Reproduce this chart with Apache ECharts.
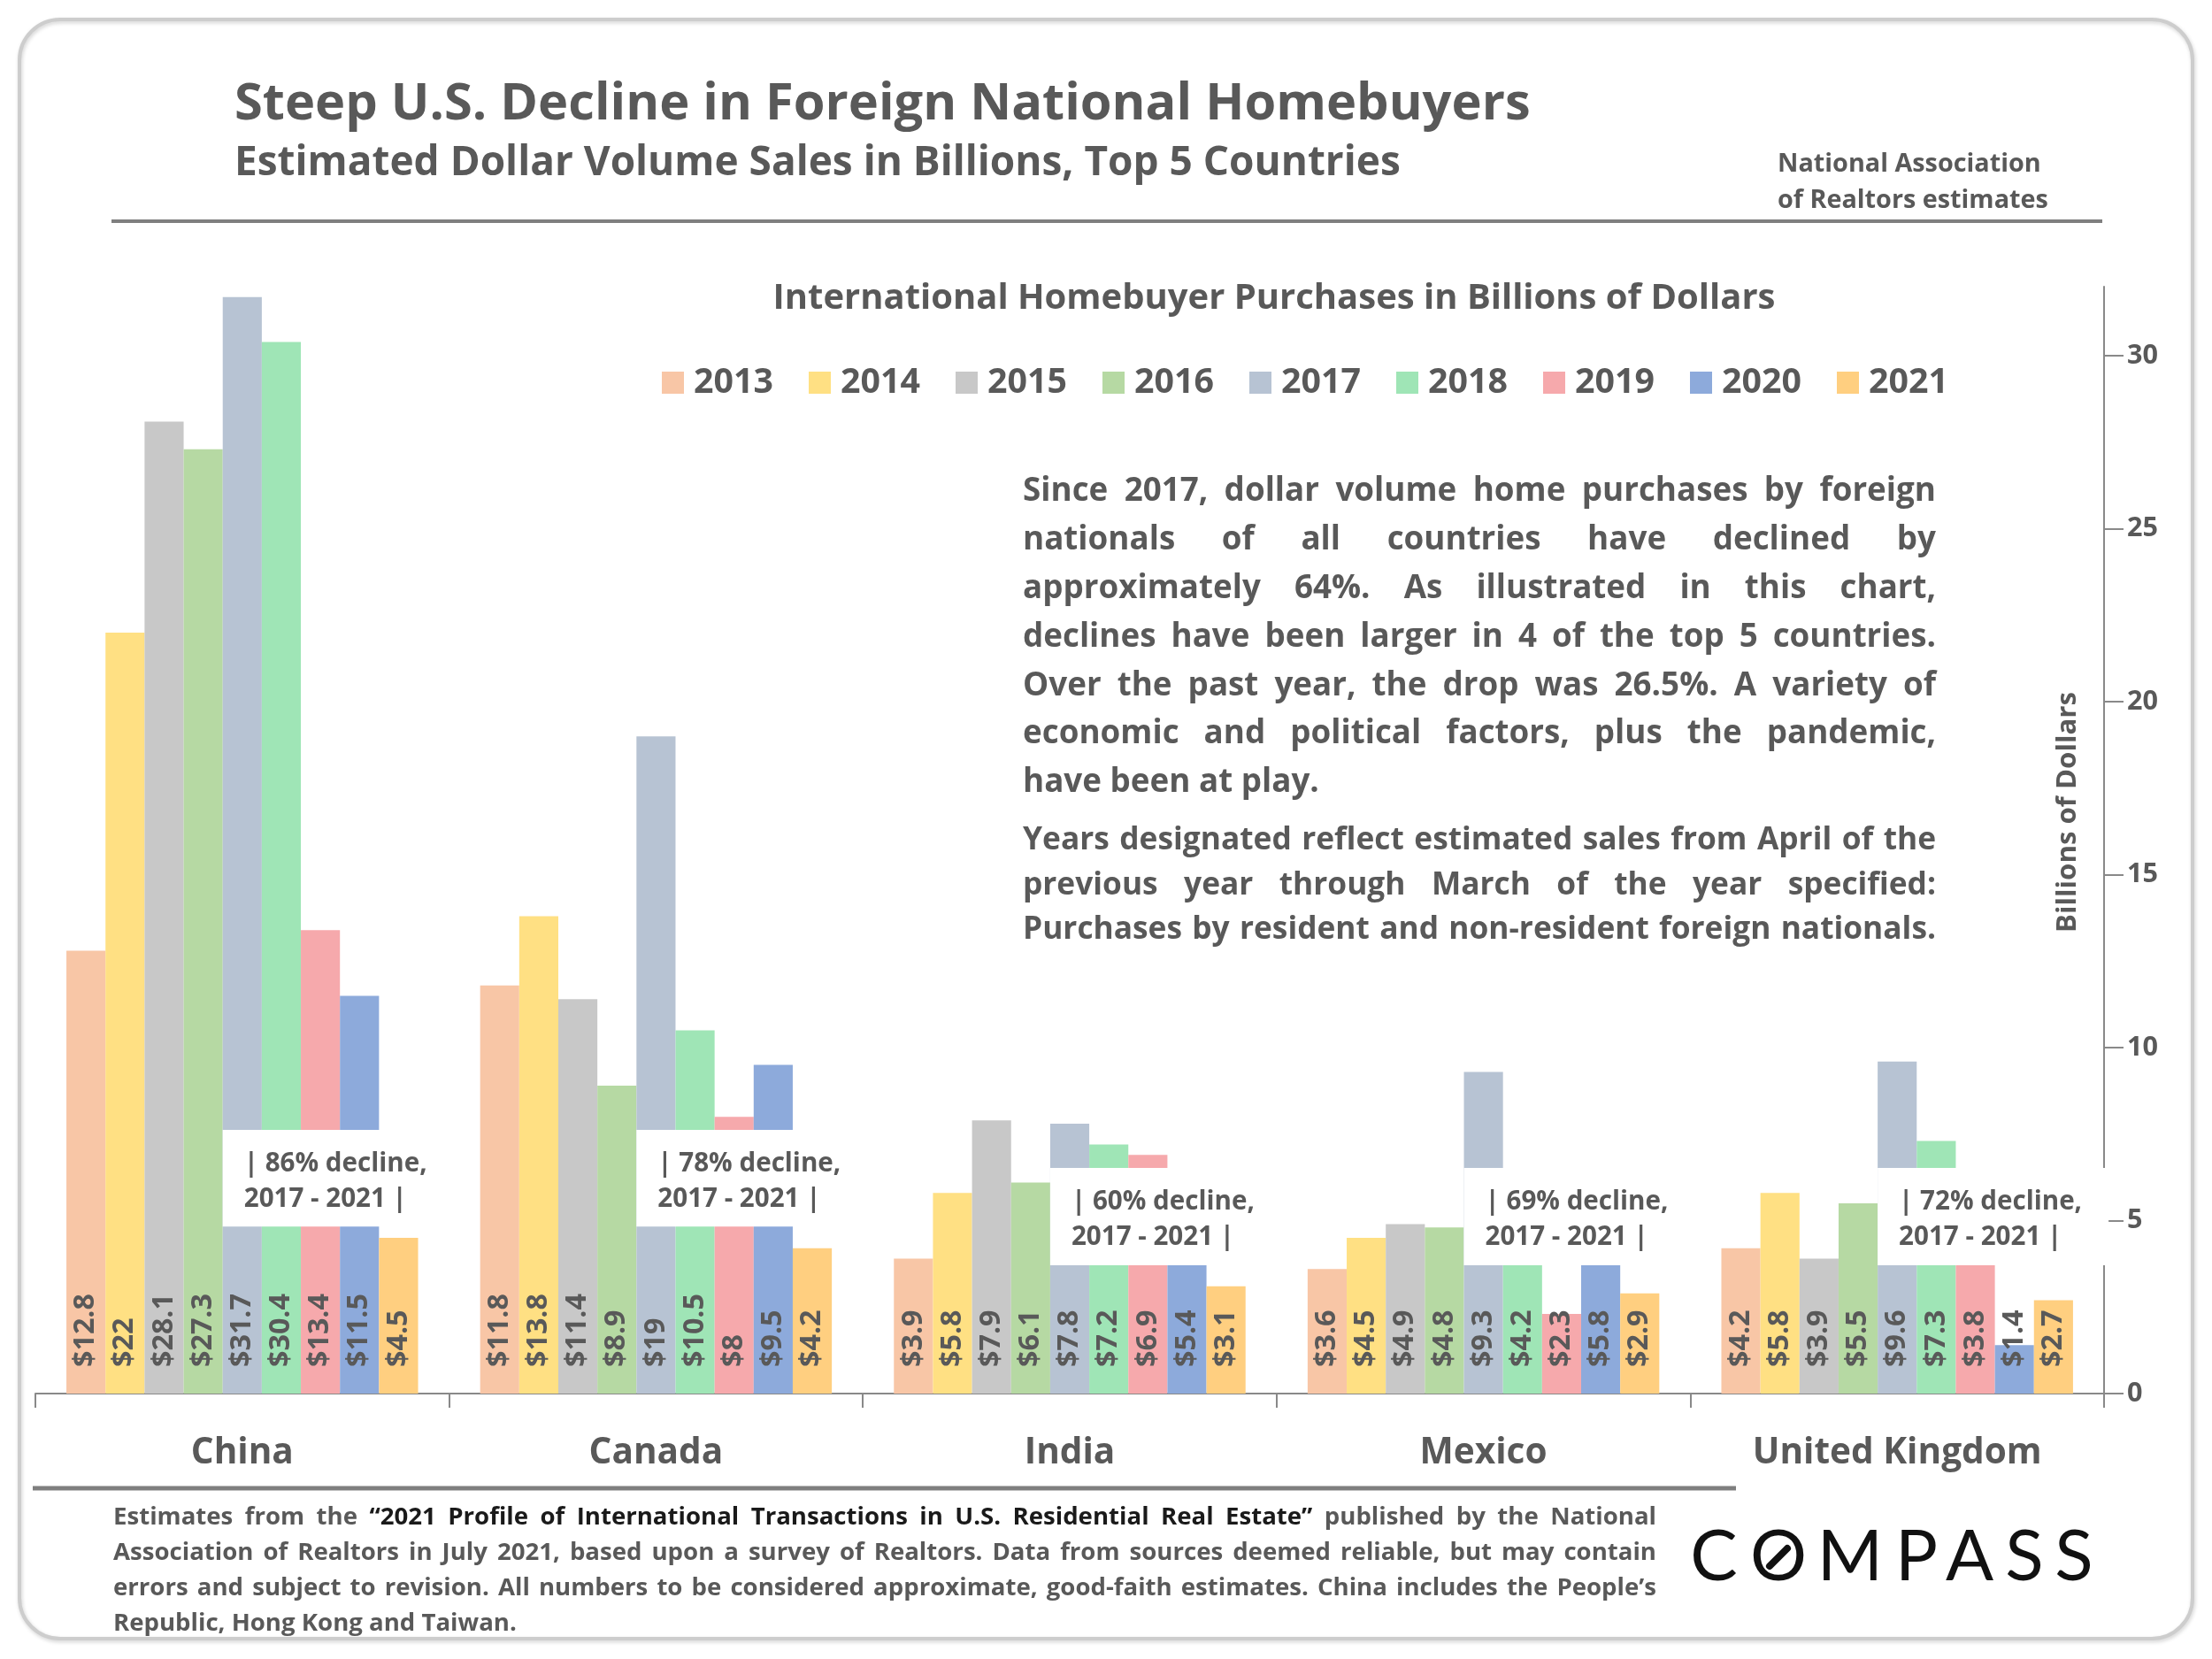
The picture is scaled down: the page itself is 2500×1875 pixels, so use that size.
<!DOCTYPE html>
<html><head><meta charset="utf-8">
<script src="https://cdn.jsdelivr.net/npm/echarts@6/dist/echarts.min.js"></script>
<style>html,body{margin:0;padding:0;background:#fff}#c{width:2500px;height:1875px}</style>
</head><body><div id="c"></div>
<script>
// ---------- data ----------
const categories = ['China', 'Canada', 'India', 'Mexico', 'United Kingdom'];
const years = ['2013', '2014', '2015', '2016', '2017', '2018', '2019', '2020', '2021'];
const v2013 = [12.8, 11.8, 3.9, 3.6, 4.2];
const v2014 = [22, 13.8, 5.8, 4.5, 5.8];
const v2015 = [28.1, 11.4, 7.9, 4.9, 3.9];
const v2016 = [27.3, 8.9, 6.1, 4.8, 5.5];
const v2017 = [31.7, 19, 7.8, 9.3, 9.6];
const v2018 = [30.4, 10.5, 7.2, 4.2, 7.3];
const v2019 = [13.4, 8, 6.9, 2.3, 3.8];
const v2020 = [11.5, 9.5, 5.4, 5.8, 1.4];
const v2021 = [4.5, 4.2, 3.1, 2.9, 2.7];
const declines = ['86%', '78%', '60%', '69%', '72%'];
const yTicks = [0, 5, 10, 15, 20, 25, 30];
const yearValues = [v2013, v2014, v2015, v2016, v2017, v2018, v2019, v2020, v2021];

// ---------- styles / layout ----------
const colors = ['#F8C6A6', '#FFE083', '#C8C8C8', '#B6D9A3', '#B7C3D3', '#9FE5B6', '#F6A9AC', '#8DAADB', '#FFCF80'];
const FONT = '"Open Sans", sans-serif';
const GRAY = '#595959';
const AXIS = '#898989';
const boxTopVal = [7.62, 7.62, 6.52, 6.52, 6.52];
const boxBottomVal = [4.83, 4.83, 3.71, 3.71, 3.71];

const ctx = document.createElement('canvas').getContext('2d');
function tw(t, size, weight) { ctx.font = (weight || 'bold') + ' ' + size + 'px "Open Sans"'; return ctx.measureText(t).width; }
function fit(t, w, weight) { return 100 * w / tw(t, 100, weight); }

function txt(text, x, y, size, o) {
  o = o || {};
  return { type: 'text', x: x, y: y, z: o.z || 20, rotation: o.rotation || 0,
    style: { text: text, fontSize: size, fontWeight: o.weight || 'bold', fontFamily: FONT,
      fill: o.color || GRAY, align: o.align || 'left', verticalAlign: 'middle' } };
}
function justifyLine(words, x0, x1, y, size, doJustify, out) {
  const ws = words.map(w => tw(w.t, size));
  const total = ws.reduce((a, b) => a + b, 0);
  const space = tw(' ', size);
  let gap = (doJustify && words.length > 1) ? (x1 - x0 - total) / (words.length - 1) : space;
  if (gap < space * 0.6) gap = space * 0.6;
  let x = x0;
  words.forEach((w, i) => { out.push(txt(w.t, x, y, size, { color: w.color })); x += ws[i] + gap; });
}
function plainWords(s, color) { return s.split(' ').filter(Boolean).map(t => ({ t: t, color: color || GRAY })); }

const chart = echarts.init(document.getElementById('c'), null, { renderer: 'canvas' });

const legendSize = fit('2013', 90);
const legendTextW = tw('2013', legendSize);
const labelSize = fit('$12.8', 83);
const xLabelSize = fit('United Kingdom', 327);
const yLabelSize = fit('30', 35);

const series = years.map((y, i) => ({
  name: y, type: 'bar', data: yearValues[i], barGap: '0%', barCategoryGap: '15%',
  itemStyle: { color: colors[i] },
  label: { show: true, position: 'insideBottom', rotate: 90, align: 'left', verticalAlign: 'middle',
    distance: 30, formatter: p => '$' + p.value, color: GRAY, fontSize: labelSize,
    fontWeight: 'bold', fontFamily: FONT }
}));

chart.setOption({
  animation: false,
  backgroundColor: '#ffffff',
  grid: { left: 40, right: 122, top: 324, bottom: 300 },
  legend: {
    data: years, left: 743, top: 408, itemWidth: 25, itemHeight: 25, icon: 'rect',
    itemGap: 166 - 25 - 5 - 6 - legendTextW, selectedMode: false,
    textStyle: { color: GRAY, fontSize: legendSize, fontWeight: 'bold', fontFamily: FONT, padding: [0, 0, 0, 6], lineHeight: 25 }
  },
  xAxis: {
    type: 'category', data: categories,
    axisLine: { lineStyle: { color: AXIS, width: 2 } },
    axisTick: { show: true, alignWithLabel: false, length: 16, lineStyle: { color: AXIS, width: 2 } },
    axisLabel: { color: GRAY, fontSize: xLabelSize, fontWeight: 'bold', fontFamily: FONT, margin: 47, interval: 0 }
  },
  yAxis: {
    type: 'value', position: 'right', min: 0, max: 32, interval: 5,
    splitLine: { show: false },
    axisLine: { show: true, lineStyle: { color: AXIS, width: 2 } },
    axisTick: { show: true, length: 22, customValues: yTicks, lineStyle: { color: AXIS, width: 2 } },
    axisLabel: { customValues: yTicks, margin: 26, color: GRAY, fontSize: yLabelSize, fontWeight: 'bold', fontFamily: FONT }
  },
  series: series
});

// ---------- annotations & texts ----------
const g = [];
// outer rounded frame
g.push({ type: 'rect', z: 1, shape: { x: 22, y: 22, width: 2456, height: 1830, r: 46 },
  style: { fill: 'none', stroke: '#cdcdcd', lineWidth: 4, shadowBlur: 4, shadowColor: 'rgba(0,0,0,0.18)', shadowOffsetX: 1, shadowOffsetY: 2 } });

// header
const t1 = 'Steep U.S. Decline in Foreign National Homebuyers';
const t2 = 'Estimated Dollar Volume Sales in Billions, Top 5 Countries';
g.push(txt(t1, 265, 119, fit(t1, 1465)));
g.push(txt(t2, 265, 185, fit(t2, 1318)));
const n1 = 'National Association', n2 = 'of Realtors estimates';
const nSize = Math.min(fit(n1, 300), fit(n2, 306));
g.push(txt(n1, 2009, 186, nSize));
g.push(txt(n2, 2009, 227, nSize));
g.push({ type: 'line', z: 5, shape: { x1: 126, y1: 250, x2: 2376, y2: 250 }, style: { stroke: '#7f7f7f', lineWidth: 4 } });

// chart title
const ct = 'International Homebuyer Purchases in Billions of Dollars';
g.push(txt(ct, 1440, 338, fit(ct, 1133), { align: 'center' }));

// y axis name
const yn = 'Billions of Dollars';
g.push(txt(yn, 2337, 918, fit(yn, 272), { align: 'center', rotation: Math.PI / 2 }));

// paragraph 1
const p1 = [
  'Since 2017, dollar volume home purchases by foreign',
  'nationals of all countries have declined by',
  'approximately 64%. As illustrated in this chart,',
  'declines have been larger in 4 of the top 5 countries.',
  'Over the past year, the drop was 26.5%. A variety of',
  'economic and political factors, plus the pandemic,',
  'have been at play.'
];
let p1Size = fit(p1[6], 335);
p1.slice(0, 6).forEach(l => { p1Size = Math.min(p1Size, fit(l, 1020)); });
p1.forEach((l, i) => justifyLine(plainWords(l), 1156, 2188, 556 + i * 54.8, p1Size, i < 6, g));

const p2 = [
  'Years designated reflect estimated sales from April of the',
  'previous year through March of the year specified:',
  'Purchases by resident and non-resident foreign nationals.'
];
let p2Size = fit(p2[2], 1022);
p2.forEach(l => { p2Size = Math.min(p2Size, fit(l, 1020)); });
p2.forEach((l, i) => justifyLine(plainWords(l), 1156, 2188, 950 + i * 50.5, p2Size, true, g));

// footnote
const DARK = '#1a1a1a';
const f1 = plainWords('Estimates from the').concat(
  plainWords('“2021 Profile of International Transactions in U.S. Residential Real Estate”', DARK),
  plainWords('published by the National'));
const f2 = 'Association of Realtors in July 2021, based upon a survey of Realtors. Data from sources deemed reliable, but may contain';
const f3 = 'errors and subject to revision.  All numbers to be considered approximate, good-faith estimates. China includes the People’s';
const f4 = 'Republic, Hong Kong and Taiwan.';
let fSize = fit(f4, 456);
[f1.map(w => w.t).join(' '), f2, f3].forEach(l => { fSize = Math.min(fSize, fit(l, 1735)); });
justifyLine(f1, 128, 1872, 1715, fSize, true, g);
justifyLine(plainWords(f2), 128, 1872, 1755, fSize, true, g);
justifyLine(plainWords(f3), 128, 1872, 1795, fSize, true, g);
justifyLine(plainWords(f4), 128, 1872, 1835, fSize, false, g);
g.push({ type: 'line', z: 5, shape: { x1: 37, y1: 1682, x2: 1962, y2: 1682 }, style: { stroke: '#7f7f7f', lineWidth: 5 } });

// COMPASS logo
g.push({ type: 'text', x: 1905, y: 1760, z: 20, style: {
  text: '{a|C}{b|O}{c|M}{d|P}{e|A}{f|S}{g|S}', verticalAlign: 'middle', align: 'left',
  fontFamily: 'Lato, sans-serif', fontSize: 80, fill: '#111',
  rich: {
    a: { width: 64, align: 'center', fontFamily: 'Lato', fontSize: 80, fill: '#111' },
    b: { width: 82, align: 'center', fontFamily: 'Lato', fontSize: 80, fill: '#111' },
    c: { width: 80, align: 'center', fontFamily: 'Lato', fontSize: 80, fill: '#111' },
    d: { width: 70, align: 'center', fontFamily: 'Lato', fontSize: 80, fill: '#111' },
    e: { width: 50, align: 'center', fontFamily: 'Lato', fontSize: 80, fill: '#111' },
    f: { width: 74, align: 'center', fontFamily: 'Lato', fontSize: 80, fill: '#111' },
    g: { width: 38, align: 'center', fontFamily: 'Lato', fontSize: 80, fill: '#111' }
  } } });
g.push({ type: 'line', z: 21, shape: { x1: 2000, y1: 1770, x2: 2020, y2: 1750 }, style: { stroke: '#111', lineWidth: 8, lineCap: 'round' } });

// decline boxes, placed through the chart's own scales
const band = chart.convertToPixel({ xAxisIndex: 0 }, 1) - chart.convertToPixel({ xAxisIndex: 0 }, 0);
const barW = band * (1 - 0.15) / years.length;
const boxSize = fit('| 86% decline,', 207);
categories.forEach((c, i) => {
  const xc = chart.convertToPixel({ xAxisIndex: 0 }, i);
  const left = xc - barW / 2;
  const top = chart.convertToPixel({ yAxisIndex: 0 }, boxTopVal[i]);
  const bottom = chart.convertToPixel({ yAxisIndex: 0 }, boxBottomVal[i]);
  g.push({ type: 'rect', z: 10, shape: { x: left, y: top, width: 261, height: bottom - top }, style: { fill: '#ffffff' } });
  g.push(txt('| ' + declines[i] + ' decline,', left + 24, top + 38, boxSize, { z: 11 }));
  g.push(txt('2017 - 2021 |', left + 24, top + 78, boxSize, { z: 11 }));
});

chart.setOption({ graphic: { elements: g } });
</script>
</body></html>
